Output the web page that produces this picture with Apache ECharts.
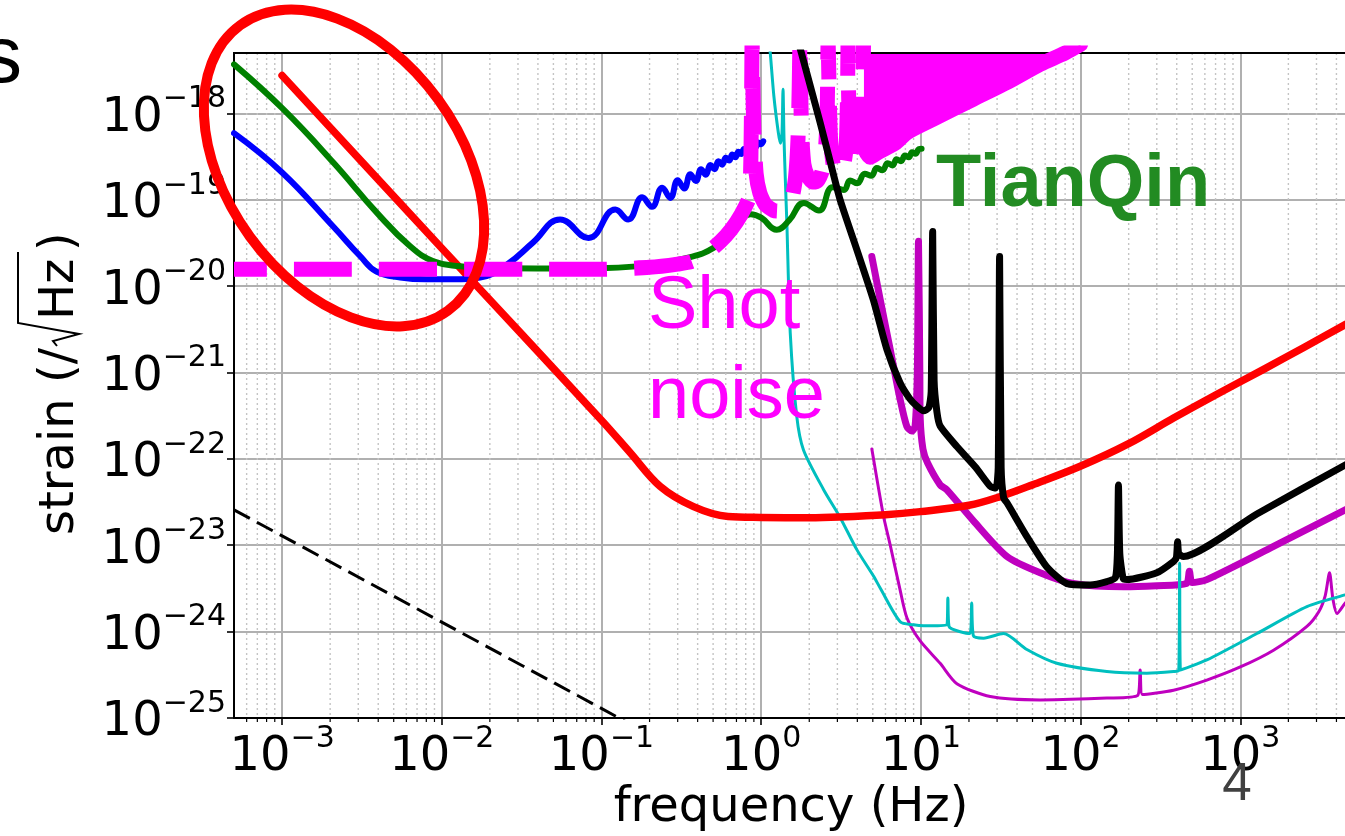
<!DOCTYPE html>
<html>
<head>
<meta charset="utf-8">
<script src="https://cdn.jsdelivr.net/npm/echarts@6/dist/echarts.min.js"></script>
<style>
  html, body { margin: 0; padding: 0; background: #ffffff; overflow: hidden; }
  /* the plot area runs past the right edge of the page, as on the slide */
  #chart { width: 1400px; height: 836px; }
</style>
</head>
<body>
<div id="chart"></div>
<script>
// ---- axis ranges and tick values ----
const xRange = [5e-4, 1e4];
const yRange = [1e-25, 5e-18];
const xMajorTicks = [1e-3, 1e-2, 1e-1, 1, 10, 100, 1000];
const yMajorTicks = [1e-25, 1e-24, 1e-23, 1e-22, 1e-21, 1e-20, 1e-19, 1e-18];
const xMinorMultipliers = [2, 3, 4, 5, 6, 7, 8, 9];

// ---- noise curves: [frequency (Hz), strain (/sqrt Hz)] ----
const dashedRef = [[5e-4, 2.57e-23], [1, 1.29e-26]];

const lisa = [
  [5e-4, 5.9e-19], [1e-3, 2.07e-19], [2.09e-3, 4.9e-20], [3.1e-3, 2.2e-20], [3.9e-3, 1.47e-20],
  [5.5e-3, 1.26e-20], [8e-3, 1.2e-20], [0.012, 1.2e-20], [0.0174, 1.26e-20], [0.0256, 1.78e-20],
  [0.0372, 3.19e-20], [0.0551, 5.9e-20], [0.083, 3.6e-20], [0.122, 7.7e-20], [0.147, 5.9e-20],
  [0.18, 1.07e-19], [0.207, 8.3e-20], [0.24, 1.38e-19], [0.27, 1.05e-19], [0.30, 1.68e-19],
  [0.33, 1.35e-19], [0.36, 1.97e-19], [0.39, 1.65e-19], [0.42, 2.25e-19], [0.45, 1.95e-19],
  [0.48, 2.52e-19], [0.51, 2.25e-19], [0.54, 2.8e-19], [0.57, 2.55e-19], [0.60, 3.07e-19],
  [0.63, 2.85e-19], [0.66, 3.33e-19], [0.69, 3.1e-19], [0.72, 3.6e-19], [0.75, 3.38e-19],
  [0.78, 3.86e-19], [0.81, 3.62e-19], [0.84, 4.1e-19], [0.87, 3.9e-19], [0.90, 4.37e-19],
  [0.93, 4.15e-19], [0.96, 4.6e-19], [0.99, 4.4e-19], [1.03, 4.75e-19]
];

const tianqin = [
  [5e-4, 3.69e-18], [1.02e-3, 1.11e-18], [2.1e-3, 2.68e-19], [3.93e-3, 7.05e-20], [6.34e-3, 2.89e-20],
  [8.87e-3, 1.94e-20], [0.013, 1.70e-20], [0.02, 1.62e-20], [0.05, 1.6e-20], [0.1, 1.62e-20],
  [0.2, 1.75e-20], [0.343, 2.12e-20], [0.503, 2.77e-20], [0.671, 4.5e-20], [0.86, 6.8e-20],
  [1.0, 6.2e-20], [1.25, 4.5e-20], [1.5, 5.8e-20], [1.85, 9.2e-20], [2.3, 7.5e-20],
  [2.8, 1.4e-19], [3.3, 1.3e-19], [3.6, 1.67e-19], [4.0, 1.55e-19], [4.45, 2.0e-19],
  [4.9, 1.9e-19], [5.3, 2.33e-19], [5.75, 2.2e-19], [6.2, 2.65e-19], [6.65, 2.5e-19],
  [7.05, 2.95e-19], [7.5, 2.8e-19], [7.95, 3.25e-19], [8.4, 3.1e-19], [8.8, 3.55e-19],
  [9.25, 3.4e-19], [9.7, 3.85e-19], [10.1, 3.9e-19]
];

// shot noise: flat floor, then resonances at multiples of ~0.875 Hz that run off the top
const shotNoise = [
  [5e-4, 1.57e-20], [0.1, 1.57e-20], [0.2, 1.65e-20], [0.3, 1.8e-20], [0.37, 1.94e-20],
  [0.5, 2.77e-20], [0.6, 3.8e-20], [0.7, 5.5e-20], [0.8, 8.5e-20], [0.845, 1.1e-19],
  [0.862, 3e-19], [0.872, 2e-18], [0.877, 7e-18],
  [0.885, 2.5e-18], [0.9, 6e-19], [0.93, 2e-19], [0.98, 1.2e-19], [1.06, 8.8e-20], [1.2, 7.5e-20],
  [1.31, 7.4e-20], [1.45, 8e-20], [1.56, 1.05e-19], [1.64, 1.8e-19], [1.7, 5e-19], [1.73, 2e-18],
  [1.75, 7e-18],
  [1.765, 2.5e-18], [1.79, 6e-19], [1.85, 2.6e-19], [1.95, 1.9e-19], [2.1, 1.6e-19], [2.25, 1.65e-19],
  [2.4, 2.1e-19], [2.52, 3.6e-19], [2.59, 1e-18], [2.625, 7e-18],
  [2.66, 2e-18], [2.72, 5e-19], [2.85, 2.3e-19], [3.05, 2.0e-19], [3.25, 2.3e-19], [3.4, 4e-19],
  [3.47, 1.5e-18], [3.5, 7e-18],
  [3.53, 1.5e-18], [3.65, 4.5e-19], [3.9, 2.6e-19], [4.15, 3.2e-19], [4.3, 8e-19], [4.375, 7e-18]
];

// dense resonance region above ~4 Hz, drawn as a band reaching the top of the plot
const shotNoiseBand = [
  [4.4, 4e-19], [4.8, 3.1e-19], [5.5, 3.6e-19], [7, 4.6e-19], [8.2, 6.0e-19], [12, 8.6e-19],
  [21.3, 1.46e-18], [35, 2.3e-18], [55.8, 3.7e-18], [80, 5.0e-18], [100, 6.3e-18]
];

const redCurve = [
  [1e-3, 2.75e-18], [1e-2, 2.75e-20], [0.1, 2.8e-22], [0.15, 1.2e-22], [0.233, 4.8e-23],
  [0.377, 2.8e-23], [0.62, 2.15e-23], [1, 2.1e-23], [2, 2.08e-23], [3.1, 2.12e-23],
  [6, 2.25e-23], [9.9, 2.45e-23], [20, 2.9e-23], [31.4, 3.66e-23], [50, 5e-23],
  [99.5, 8.2e-23], [200, 1.5e-22], [382, 2.97e-22], [700, 5.5e-22], [1390, 1.08e-21],
  [2500, 1.95e-21], [4540, 3.58e-21], [5000, 3.94e-21]
];

const blackCurve = [
  [1.7, 7e-18], [2.0, 2.3e-18], [2.34, 7.8e-19], [2.7, 2.8e-19], [3.12, 1.0e-19], [3.97, 2.65e-20],
  [5.03, 7.0e-21], [6.13, 1.84e-21], [7.4, 7.6e-22], [8.5, 5e-22], [9.4, 4.1e-22], [10.4, 3.6e-22],
  [11.2, 3.9e-22], [11.6, 6e-22], [11.85, 4.3e-20], [12.1, 8e-22], [12.6, 3.5e-22], [13.2, 2.4e-22],
  [16.8, 1.39e-22], [22, 8e-23], [27.2, 4.8e-23], [29.5, 4.6e-23], [30.5, 8e-23], [31.1, 2.2e-20],
  [31.8, 8e-23], [33, 3.5e-23], [34.6, 3.1e-23], [46.1, 1.26e-23], [61.5, 5.6e-24], [82, 3.6e-24],
  [115, 3.47e-24], [146, 3.8e-24], [165, 4.2e-24], [170, 8e-24], [172.6, 5.0e-23], [176, 8e-24],
  [185, 4.1e-24], [195, 4.0e-24], [300, 4.8e-24], [382, 6.5e-24], [398, 7.2e-24], [405, 1.1e-23],
  [412, 8e-24], [441, 7.4e-24], [1270, 2.3e-23], [4540, 8.5e-23], [5000, 9.3e-23]
];

const purpleThick = [
  [4.93, 2.2e-20], [5.56, 7e-21], [6.43, 1.84e-21], [7.42, 4.84e-22], [8.17, 2.37e-22],
  [8.79, 2.1e-22], [9.2, 2.4e-22], [9.5, 1e-21], [9.66, 3.3e-20], [9.85, 1e-21], [9.9, 3e-22],
  [10.3, 1.3e-22], [11, 9e-23], [13.2, 5e-23], [14.5, 4.4e-23], [21.4, 1.9e-23], [34.6, 7.4e-24],
  [55.8, 4.8e-24], [90, 3.6e-24], [186, 3.3e-24], [300, 3.4e-24], [460, 3.6e-24], [480, 5e-24],
  [500, 3.7e-24], [617, 4e-24], [1615, 9.7e-24], [4540, 2.57e-23], [5000, 2.8e-23]
];

const purpleThin = [
  [4.93, 1.3e-22], [5.84, 2.15e-23], [6.43, 1.0e-23], [7.42, 3.0e-24], [8.17, 1.45e-24],
  [9.9, 7.8e-25], [13.2, 4.3e-25], [16.8, 2.5e-25], [27.2, 1.77e-25], [55.8, 1.62e-25],
  [146, 1.7e-25], [228, 1.83e-25], [236, 3.6e-25], [244, 1.87e-25], [382, 2.1e-25],
  [617, 2.75e-25], [1000, 3.9e-25], [1615, 6.1e-25], [2613, 1.15e-24], [3100, 1.7e-24],
  [3400, 2.6e-24], [3620, 4.8e-24], [3800, 2.4e-24], [4030, 1.62e-24], [4540, 2.14e-24],
  [5000, 2.5e-24]
];

const cyanCurve = [
  [1.1, 1e-17], [1.14, 5e-18], [1.2, 1.6e-18], [1.28, 6e-19], [1.32, 4.5e-19], [1.35, 6e-19],
  [1.37, 1.9e-18], [1.39, 5e-19], [1.42, 1.5e-19], [1.45, 4.9e-20], [1.52, 2.9e-21], [1.67, 3.1e-22],
  [1.84, 1.27e-22], [2.46, 4.4e-23], [3.12, 2.1e-23], [3.97, 8.9e-24], [5.05, 4.4e-24],
  [5.56, 3.2e-24], [7.42, 1.3e-24], [9.0, 1.2e-24], [10.4, 1.17e-24], [14.5, 1.2e-24],
  [14.75, 2.45e-24], [15.0, 1.15e-24], [20.3, 9.5e-25], [20.8, 2.14e-24], [21.3, 9e-25],
  [24.7, 8.4e-25], [32.9, 9.5e-25], [46.1, 6.2e-25], [71, 4.3e-25], [146, 3.45e-25],
  [260, 3.3e-25], [382, 3.45e-25], [412, 3.55e-25], [417, 6.2e-24], [422, 3.6e-25],
  [617, 4.7e-25], [1270, 9.5e-25], [2613, 1.95e-24], [4540, 2.66e-24], [5000, 2.75e-24]
];

// ---- helpers ----
const TICK_FONT = 'DejaVu Sans';
function powerLabel(v) {
  const lg = Math.log10(v);
  const e = Math.round(lg);
  if (Math.abs(lg - e) > 1e-6) return '';
  return '{b|10}{s|' + (e < 0 ? '\u2212' + (-e) : String(e)) + '}';
}
const tickRich = {
  b: { fontFamily: TICK_FONT, fontSize: 48, lineHeight: 58, color: '#000', verticalAlign: 'bottom' },
  s: { fontFamily: TICK_FONT, fontSize: 30, lineHeight: 30, color: '#000', verticalAlign: 'top' }
};

function curve(name, data, color, width, opts) {
  opts = opts || {};
  return Object.assign({
    name: name, type: 'line', data: data, showSymbol: false, symbol: 'none',
    smooth: opts.smooth != null ? opts.smooth : 0.25,
    silent: true, clip: true,
    lineStyle: { color: color, width: width, type: opts.dash || 'solid', dashOffset: opts.dashOffset || 0,
                 cap: opts.dash ? 'butt' : 'round', join: 'round' }
  }, opts.extra || {});
}

const chart = echarts.init(document.getElementById('chart'), null, { renderer: 'canvas' });

chart.setOption({
  animation: false,
  backgroundColor: '#ffffff',
  grid: { left: 234, right: 0, top: 53, bottom: 118, show: false, containLabel: false },
  xAxis: {
    type: 'log', logBase: 10, min: xRange[0], max: xRange[1],
    axisLine: { show: true, onZero: false, lineStyle: { color: '#000', width: 2 } },
    axisTick: { show: true, length: 7, customValues: xMajorTicks, lineStyle: { color: '#000', width: 1.6 } },
    axisLabel: { show: true, customValues: xMajorTicks, formatter: powerLabel, margin: 6, rich: tickRich },
    splitLine: { show: true, lineStyle: { color: '#b0b0b0', width: 2 } },
    minorTick: { show: false }, minorSplitLine: { show: false }
  },
  yAxis: {
    type: 'log', logBase: 10, min: yRange[0], max: yRange[1],
    axisLine: { show: true, onZero: false, lineStyle: { color: '#000', width: 2 } },
    axisTick: { show: true, length: 7, customValues: yMajorTicks, lineStyle: { color: '#000', width: 1.6 } },
    axisLabel: { show: true, customValues: yMajorTicks, formatter: powerLabel, margin: 8, rich: tickRich },
    splitLine: { show: true, lineStyle: { color: '#b0b0b0', width: 2 } },
    minorTick: { show: false }, minorSplitLine: { show: false }
  },
  series: [
    curve('dashedRef', dashedRef, '#000000', 3, { smooth: false, dash: [18, 8] }),
    curve('purpleThin', purpleThin, '#bf00bf', 3),
    curve('purpleThick', purpleThick, '#bf00bf', 7),
    curve('cyanCurve', cyanCurve, '#00bfbf', 3),
    curve('redCurve', redCurve, '#ff0000', 7.5, { smooth: 0.35 }),
    curve('lisa', lisa, '#0000ff', 6, { smooth: 0.45 }),
    curve('tianqin', tianqin, '#008000', 6, { smooth: 0.45 }),
    curve('shotNoise', shotNoise, '#ff00ff', 15, { dash: [58, 27], dashOffset: 25, smooth: 0.2 }),
    curve('shotNoiseBand', shotNoiseBand, '#ff00ff', 15, {
      extra: { areaStyle: { color: '#ff00ff', opacity: 1, origin: 'end' } }
    }),
    curve('blackCurve', blackCurve, '#000000', 7, { smooth: 0.2 })
  ]
});

// ---- minor x grid lines / ticks and the top frame line, placed through the axis scales ----
const graphics = [];
const yBottom = chart.convertToPixel({ yAxisIndex: 0 }, yRange[0]);
const yTop = chart.convertToPixel({ yAxisIndex: 0 }, yRange[1]);
const xLeft = chart.convertToPixel({ xAxisIndex: 0 }, xRange[0]);
const xRight = chart.convertToPixel({ xAxisIndex: 0 }, xRange[1]);
for (let e = -4; e <= 3; e++) {
  xMinorMultipliers.forEach(function (m) {
    const v = m * Math.pow(10, e);
    if (v < xRange[0] || v > xRange[1]) return;
    const px = chart.convertToPixel({ xAxisIndex: 0 }, v);
    if (px <= xLeft + 1) return;
    graphics.push({ type: 'line', z: 1, silent: true,
      shape: { x1: px, y1: yTop, x2: px, y2: yBottom },
      style: { stroke: '#c4c4c4', lineWidth: 1.4, lineDash: [2, 3] } });
    graphics.push({ type: 'line', z: 1, silent: true,
      shape: { x1: px, y1: yBottom, x2: px, y2: yBottom + 4 },
      style: { stroke: '#000', lineWidth: 1.2 } });
  });
}
graphics.push({ type: 'line', z: 3, silent: true,
  shape: { x1: xLeft - 1, y1: yTop, x2: xRight, y2: yTop },
  style: { stroke: '#000', lineWidth: 2 } });

function label(str, x, y, font, color, align, extra) {
  return Object.assign({ type: 'text', x: x, y: y, z: 100, silent: true,
    style: { text: str, font: font, fill: color, textAlign: align, align: align,
             textVerticalAlign: 'middle', verticalAlign: 'middle' } }, extra || {});
}

// axis titles
graphics.push(label('frequency (Hz)', 791, 809, '48px "DejaVu Sans"', '#000', 'center'));
graphics.push({
  type: 'group', x: 77, y: 535, rotation: Math.PI / 2, z: 100, silent: true,
  children: [
    label('strain (/', 0, -16.6, '48px "DejaVu Sans"', '#000', 'left'),
    { type: 'polyline', shape: { points: [[189, -20], [194, -24], [201, 2], [212, -59], [283, -59]] },
      style: { stroke: '#000', lineWidth: 2, fill: 'none', lineJoin: 'miter' } },
    label('Hz', 215, -16.6, '48px "DejaVu Sans"', '#000', 'left'),
    label(')', 284, -16.6, '48px "DejaVu Sans"', '#000', 'left')
  ]
});

// annotations
graphics.push(label('TianQin', 936, 186, 'bold 74px "Liberation Sans"', '#228b22', 'left'));
graphics.push(label('Shot', 648, 308, '74px "Liberation Sans"', '#ff00ff', 'left'));
graphics.push(label('noise', 648, 398, '74px "Liberation Sans"', '#ff00ff', 'left'));
graphics.push(label('4', 1237, 785, '53px "Liberation Sans"', '#404040', 'center'));
graphics.push(label('s', -18, 60, '80px "Liberation Sans"', '#000', 'left'));
graphics.push({ type: 'ellipse', x: 344, y: 168, rotation: -0.942, z: 120, silent: true,
  shape: { cx: 0, cy: 0, rx: 176.5, ry: 116.5 },
  style: { stroke: '#ff0000', lineWidth: 10, fill: 'none' } });

chart.setOption({ graphic: graphics });
</script>
</body>
</html>
